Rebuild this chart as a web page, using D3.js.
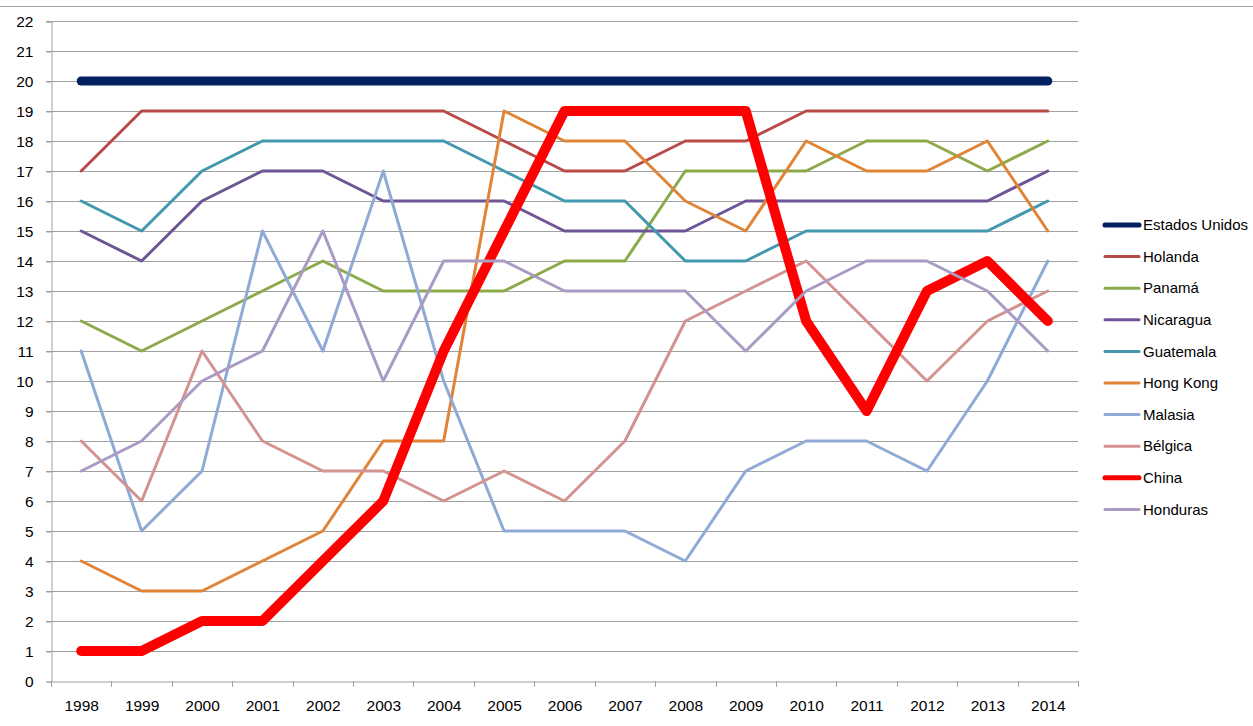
<!DOCTYPE html>
<html>
<head>
<meta charset="UTF-8">
<title>Ranking por año</title>
<script src="https://d3js.org/d3.v7.min.js"></script>
<style>
  body { margin: 0; background: #fff; }
  svg { display: block; font-family: "Liberation Sans", Arial, sans-serif; }
  .tick text { font-size: 15.5px; fill: #000; }
</style>
</head>
<body>
<svg width="1253" height="726"></svg>
<script>
const years = ["1998","1999","2000","2001","2002","2003","2004","2005","2006","2007","2008","2009","2010","2011","2012","2013","2014"];
const yTicks = d3.range(0, 23);

const estadosUnidos = [20,20,20,20,20,20,20,20,20,20,20,20,20,20,20,20,20];
const holanda   = [17,19,19,19,19,19,19,18,17,17,18,18,19,19,19,19,19];
const panama    = [12,11,12,13,14,13,13,13,14,14,17,17,17,18,18,17,18];
const nicaragua = [15,14,16,17,17,16,16,16,15,15,15,16,16,16,16,16,17];
const guatemala = [16,15,17,18,18,18,18,17,16,16,14,14,15,15,15,15,16];
const hongKong  = [4,3,3,4,5,8,8,19,18,18,16,15,18,17,17,18,15];
const malasia   = [11,5,7,15,11,17,10,5,5,5,4,7,8,8,7,10,14];
const belgica   = [8,6,11,8,7,7,6,7,6,8,12,13,14,12,10,12,13];
const china     = [1,1,2,2,4,6,11,15,19,19,19,19,12,9,13,14,12];
const honduras  = [7,8,10,11,15,10,14,14,13,13,13,11,13,14,14,13,11];

const series = [
  {name: "Estados Unidos", values: estadosUnidos, color: "#002060", width: 9},
  {name: "Holanda",   values: holanda,   color: "#B84A47", width: 3},
  {name: "Panamá",    values: panama,    color: "#8DAA4B", width: 3},
  {name: "Nicaragua", values: nicaragua, color: "#705596", width: 3},
  {name: "Guatemala", values: guatemala, color: "#4198AF", width: 3},
  {name: "Hong Kong", values: hongKong,  color: "#E08438", width: 3},
  {name: "Malasia",   values: malasia,   color: "#8FAAD4", width: 3},
  {name: "Bélgica",   values: belgica,   color: "#D39390", width: 3},
  {name: "China",     values: china,     color: "#FF0000", width: 10},
  {name: "Honduras",  values: honduras,  color: "#A99BC3", width: 3}
];

const svg = d3.select("svg");
const mLeft = 51, mRight = 1078, mTop = 21, mBottom = 681;
const gridColor = "#A0A0A0";

// frame line at the top of the chart area
svg.append("line")
  .attr("x1", 0).attr("x2", 1253).attr("y1", 6.5).attr("y2", 6.5)
  .attr("stroke", gridColor);

const x = d3.scaleBand().domain(years).range([mLeft, mRight]);
const y = d3.scaleLinear().domain([0, 22]).range([mBottom, mTop]);

// horizontal gridlines
svg.append("g")
  .selectAll("line")
  .data(yTicks.filter(d => d > 0))
  .join("line")
  .attr("x1", mLeft - 5).attr("x2", mRight)
  .attr("y1", d => Math.round(y(d)) + 0.5).attr("y2", d => Math.round(y(d)) + 0.5)
  .attr("stroke", gridColor);

// y axis
const yAxis = svg.append("g")
  .attr("transform", `translate(${mLeft + 0.5},0.5)`)
  .call(d3.axisLeft(y).tickValues(yTicks).tickSize(5).tickPadding(13).tickFormat(d3.format("d")));
yAxis.selectAll("line, path").attr("stroke", gridColor);

// x axis with ticks between categories
const xAxis = svg.append("g")
  .attr("transform", `translate(0.5,${mBottom + 0.5})`)
  .call(d3.axisBottom(x).tickSize(0).tickPadding(18));
xAxis.select("path").attr("stroke", gridColor);
xAxis.selectAll(".tick line").remove();
svg.append("g")
  .selectAll("line")
  .data(years.concat(["end"]))
  .join("line")
  .attr("x1", (d, i) => Math.round(mLeft + i * x.step()) + 0.5)
  .attr("x2", (d, i) => Math.round(mLeft + i * x.step()) + 0.5)
  .attr("y1", mBottom).attr("y2", mBottom + 6)
  .attr("stroke", gridColor);

// lines
const line = d3.line()
  .x((d, i) => x(years[i]) + x.bandwidth() / 2)
  .y(d => y(d));

svg.append("g")
  .selectAll("path")
  .data(series)
  .join("path")
  .attr("d", d => line(d.values))
  .attr("fill", "none")
  .attr("stroke", d => d.color)
  .attr("stroke-width", d => d.width)
  .attr("stroke-linejoin", "round")
  .attr("stroke-linecap", "round");

// legend
const legend = svg.append("g")
  .selectAll("g")
  .data(series)
  .join("g")
  .attr("transform", (d, i) => `translate(1105,${225 + i * 31.6})`);
legend.append("line")
  .attr("x1", 0).attr("x2", 34)
  .attr("stroke", d => d.color)
  .attr("stroke-width", d => Math.min(d.width, 5))
  .attr("stroke-linecap", "round");
legend.append("text")
  .attr("x", 38).attr("dy", "0.35em")
  .style("font-size", "15px")
  .text(d => d.name);
</script>
</body>
</html>
